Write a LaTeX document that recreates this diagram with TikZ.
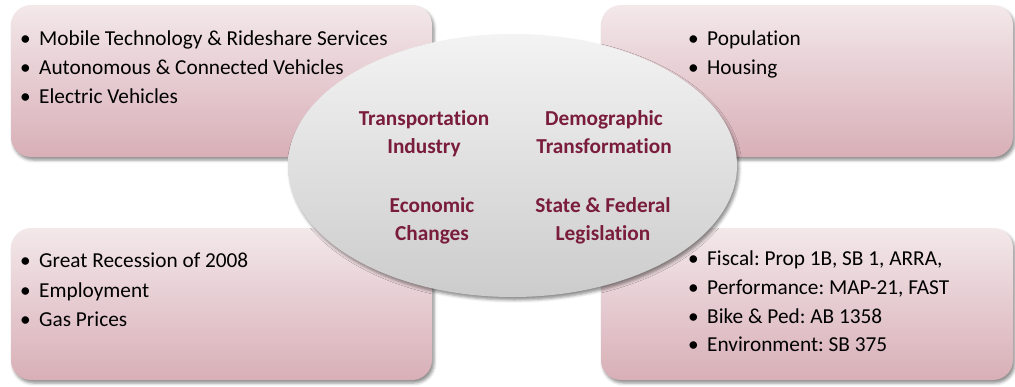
\documentclass[tikz,border=0pt]{standalone}
\usepackage{fontspec}
\setmainfont[Ligatures=NoCommon]{Carlito}
\usetikzlibrary{shapes.geometric,shadows.blur}
\definecolor{boxtop}{RGB}{243,232,234}
\definecolor{boxbottom}{RGB}{216,175,183}
\definecolor{ovaltop}{RGB}{243,243,243}
\definecolor{ovalbottom}{RGB}{204,204,204}
\definecolor{topicred}{RGB}{122,28,60}
\newcommand{\bulletitem}[1]{\makebox[19pt][l]{\textbullet}#1}
\frenchspacing
\begin{document}
\begin{tikzpicture}[x=1pt,y=-1pt,
  trendbox/.style={rectangle,rounded corners=20pt,draw=none,top color=boxtop,bottom color=boxbottom,
    minimum height=152pt,inner sep=0pt,
    blur shadow={shadow xshift=2pt,shadow yshift=-3pt,shadow blur radius=3pt,shadow opacity=45}},
  oval/.style={ellipse,draw=none,top color=ovaltop,bottom color=ovalbottom,
    minimum width=449pt,minimum height=263pt,inner sep=0pt,
    blur shadow={shadow xshift=2pt,shadow yshift=-3pt,shadow blur radius=3pt,shadow opacity=45}},
  item/.style={anchor=base west,inner sep=0pt,font=\fontsize{21.3}{24}\selectfont},
  topic/.style={anchor=base,inner sep=0pt,align=center,text=topicred,font=\fontsize{21.3}{28}\selectfont\bfseries},
]
%%
  \useasboundingbox (0,0) rectangle (1015,386);
  \node [trendbox,minimum width=421pt] (box_0) at (221.5,81) {};
  \node [trendbox,minimum width=412pt] (box_1) at (807,81) {};
  \node [trendbox,minimum width=421pt] (box_2) at (221.5,304) {};
  \node [trendbox,minimum width=412pt] (box_3) at (807,304) {};
%%
  \node [item] (item_0) at (20,45) {\bulletitem{Mobile Technology \& Rideshare Services}};
  \node [item] (item_1) at (20,74) {\bulletitem{Autonomous \& Connected Vehicles}};
  \node [item] (item_2) at (20,103) {\bulletitem{Electric Vehicles}};
  \node [item] (item_3) at (688,45) {\bulletitem{Population}};
  \node [item] (item_4) at (688,74) {\bulletitem{Housing}};
  \node [item] (item_5) at (20,267) {\bulletitem{Great Recession of 2008}};
  \node [item] (item_6) at (20,297) {\bulletitem{Employment}};
  \node [item] (item_7) at (20,326) {\bulletitem{Gas Prices}};
  \node [item] (item_8) at (688,265) {\bulletitem{Fiscal: Prop 1B, SB 1, ARRA,}};
  \node [item] (item_9) at (688,294) {\bulletitem{Performance: MAP-21, FAST}};
  \node [item] (item_10) at (688,323) {\bulletitem{Bike \& Ped: AB 1358}};
  \node [item] (item_11) at (688,351) {\bulletitem{Environment: SB 375}};
%%
  \node [oval] (oval_0) at (512.5,165.5) {};
  \node [topic] (topic_0) at (424,153) {Transportation\\Industry};
  \node [topic] (topic_1) at (604,153) {Demographic\\Transformation};
  \node [topic] (topic_2) at (432,240) {Economic\\Changes};
  \node [topic] (topic_3) at (603,240) {State \& Federal\\Legislation};
\end{tikzpicture}
\end{document}
